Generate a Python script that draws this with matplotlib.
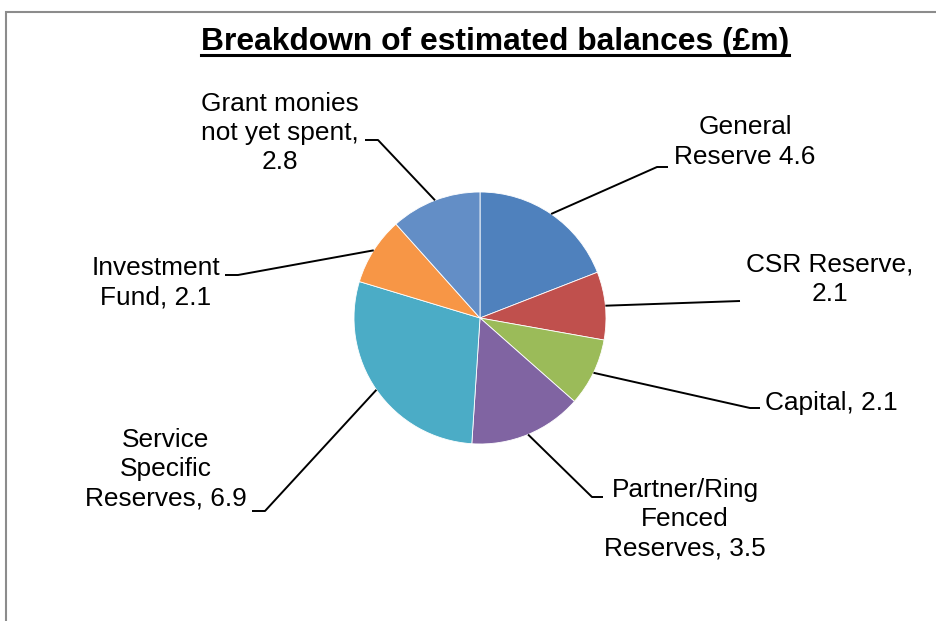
import numpy as np
import matplotlib
matplotlib.use("Agg")
import matplotlib.pyplot as plt
from matplotlib.lines import Line2D
from matplotlib.patches import Rectangle

plt.rcParams["font.family"] = ["Liberation Sans", "DejaVu Sans"]

# data
labels = ["General\nReserve 4.6", "CSR Reserve,\n2.1", "Capital, 2.1",
          "Partner/Ring\nFenced\nReserves, 3.5", "Service\nSpecific\nReserves, 6.9",
          "Investment\nFund, 2.1", "Grant monies\nnot yet spent,\n2.8"]
values = [4.6, 2.1, 2.1, 3.5, 6.9, 2.1, 2.8]
colors = ["#4F81BD", "#C0504D", "#9BBB59", "#8064A2", "#4BACC6", "#F79646", "#638EC6"]

W, H = 937, 621
# label layout in image pixels: (elbow x, elbow y, tail x, text x, text y)
layout = [
    (657, 167, 668, 745, 142),
    (740, 301, 740, 830, 279),
    (750, 408, 760, 831, 403),
    (592, 497, 603, 685, 519),
    (265, 511, 252, 166, 469),
    (238, 275, 225, 156, 283),
    (378, 140, 365, 280, 133),
]

fig = plt.figure(figsize=(W / 100, H / 100), dpi=100)
ax = fig.add_axes([0, 0, 1, 1])

cx, cy, r = 480, H - 318, 126
wedges, _ = ax.pie(values, colors=colors, startangle=90, counterclock=False,
                   center=(cx, cy), radius=r,
                   wedgeprops=dict(edgecolor="white", linewidth=0.6))
ax.set_xlim(0, W)
ax.set_ylim(0, H)
ax.set_aspect("equal")
ax.axis("off")

for w, lab, (ex, ey, tx, lx, ly) in zip(wedges, labels, layout):
    mid = np.deg2rad((w.theta1 + w.theta2) / 2)
    sx, sy = cx + r * np.cos(mid), cy + r * np.sin(mid)
    ax.plot([sx, ex, tx], [sy, H - ey, H - ey], color="black", lw=1.4,
            solid_capstyle="butt")
    ax.text(lx, H - ly, lab, ha="center", va="center", fontsize=18.9,
            linespacing=1.27, multialignment="center")

# border (only left and top visible)
ax.add_patch(Rectangle((6, -20), W + 40, H - 12 + 20, fill=False,
                       edgecolor="#8C8C8C", lw=1.5, clip_on=False))

title = ax.text(495, H - 50, "Breakdown of estimated balances (£m)", ha="center",
                va="baseline", fontsize=22.9, fontweight="bold")
fig.canvas.draw()
bb = title.get_window_extent(fig.canvas.get_renderer())
ax.add_line(Line2D([bb.x0, bb.x1], [H - 55, H - 55], color="black", lw=2.2))

fig.savefig("out.png", dpi=100, facecolor="white")
